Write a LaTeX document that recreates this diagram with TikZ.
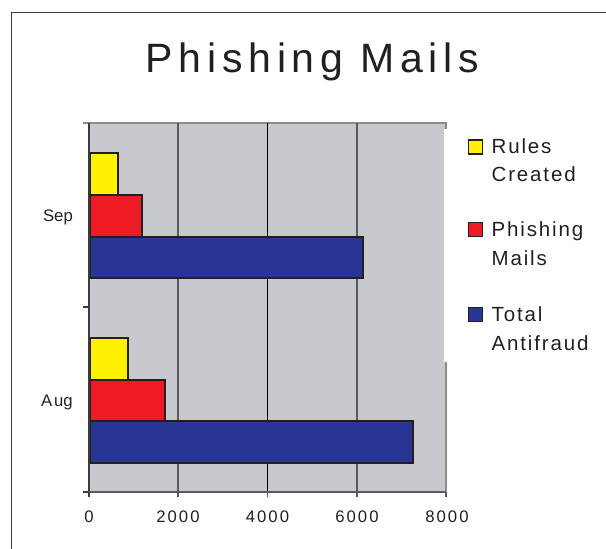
\documentclass[tikz,border=0pt]{standalone}
\usepackage{fontspec}
\setmainfont{Liberation Sans}
\newfontfamily\spacedfont[LetterSpace=12]{Liberation Sans}
\newfontfamily\legendspaced[LetterSpace=9]{Liberation Sans}
\newfontfamily\titlespaced[LetterSpace=14]{Liberation Sans}
\definecolor{plotgray}{HTML}{C8C9CE}
\definecolor{ybar}{HTML}{FFF200}
\definecolor{rbar}{HTML}{ED1C24}
\definecolor{bbar}{HTML}{283593}
\definecolor{edge}{HTML}{231F20}
\definecolor{framec}{HTML}{3A3A3A}
\definecolor{gridc}{HTML}{5A5A5A}
\definecolor{borderc}{HTML}{8C8C8C}
\definecolor{textc}{HTML}{231F20}
\tikzset{
  barbox/.style={draw=edge, line width=2pt},
  legbox/.style={draw=edge, line width=1.5pt, minimum width=14pt, minimum height=14pt, inner sep=0pt},
  legtext/.style={font=\legendspaced\fontsize{20.5}{28.4}\selectfont, text=textc, anchor=base west, align=left, inner sep=0pt},
  ticklab/.style={font=\spacedfont\fontsize{16.7}{18}\selectfont, text=textc, anchor=base, inner sep=0pt},
  catlab/.style={font=\fontsize{16.7}{18}\selectfont, text=textc, anchor=base east, inner sep=0pt},
  gridl/.style={draw=gridc, line width=1.2pt},
}
\begin{document}
\begin{tikzpicture}[x=1pt,y=-1pt]
\useasboundingbox (0,0) rectangle (606,549);
% frame
\draw[framec, line width=1.3pt] (11.5,549) -- (11.5,12.5) -- (606,12.5);
% title
\node[font=\titlespaced\fontsize{41}{45}\selectfont, text=textc, anchor=base, inner sep=0pt] (title) at (312.5,72.3) {Phishing Mails};
% plot area
\fill[plotgray] (89,123) rectangle (446,492);
\draw[borderc, line width=1.2pt] (83,123) -- (446,123) -- (446,492);
% gridlines
\draw[gridl] (178,123) -- (178,492);
\draw[black, line width=0.9pt] (267.5,123) -- (267.5,492);
\draw[gridl] (357,123) -- (357,492);
% bars Sep
\draw[barbox, fill=ybar] (89.5,153.3) rectangle (117.7,195);
\draw[barbox, fill=rbar] (89.5,195) rectangle (141.7,236.7);
\draw[barbox, fill=bbar] (89.5,236.7) rectangle (362.7,277.7);
% bars Aug
\draw[barbox, fill=ybar] (89.5,338.3) rectangle (127.7,380);
\draw[barbox, fill=rbar] (89.5,380) rectangle (165.3,421);
\draw[barbox, fill=bbar] (89.5,421) rectangle (412.7,462.7);
% axes
\draw[framec, line width=1.3pt] (89,123) -- (89,497);
\draw[gridc, line width=1.3pt] (83,492) -- (446,492);
\foreach \yy in {307,492} \draw[framec, line width=1.2pt] (83,\yy) -- (89,\yy);
\foreach \xx in {178,267.5,357,446} \draw[gridc, line width=1.2pt] (\xx,492) -- (\xx,497);
% legend box (covers plot)
\fill[white] (444,128.5) rectangle (602,362);
% category labels
\node[catlab] (sep) at (73,221.5) {Sep};
\node[catlab] (aug) at (73,406) {A\kern2pt ug};
% tick labels
\node[ticklab] (t0) at (89,522.7) {0};
\node[ticklab] (t1) at (178,522.7) {2000};
\node[ticklab] (t2) at (267.5,522.7) {4000};
\node[ticklab] (t3) at (357,522.7) {6000};
\node[ticklab] (t4) at (447,522.7) {8000};
% legend
\node[legbox, fill=ybar] (ly) at (475.5,147.2) {};
\node[legtext] (lyt) at (491.5,181.7) {Rules\\Created};
\node[legbox, fill=rbar] (lr) at (475.5,229.5) {};
\node[legtext] (lrt) at (491.5,265) {Phishing\\Mails};
\node[legbox, fill=bbar] (lb) at (475.5,314.7) {};
\node[legtext] (lbt) at (491.5,350) {Total\\Antifraud};
\end{tikzpicture}
\end{document}
